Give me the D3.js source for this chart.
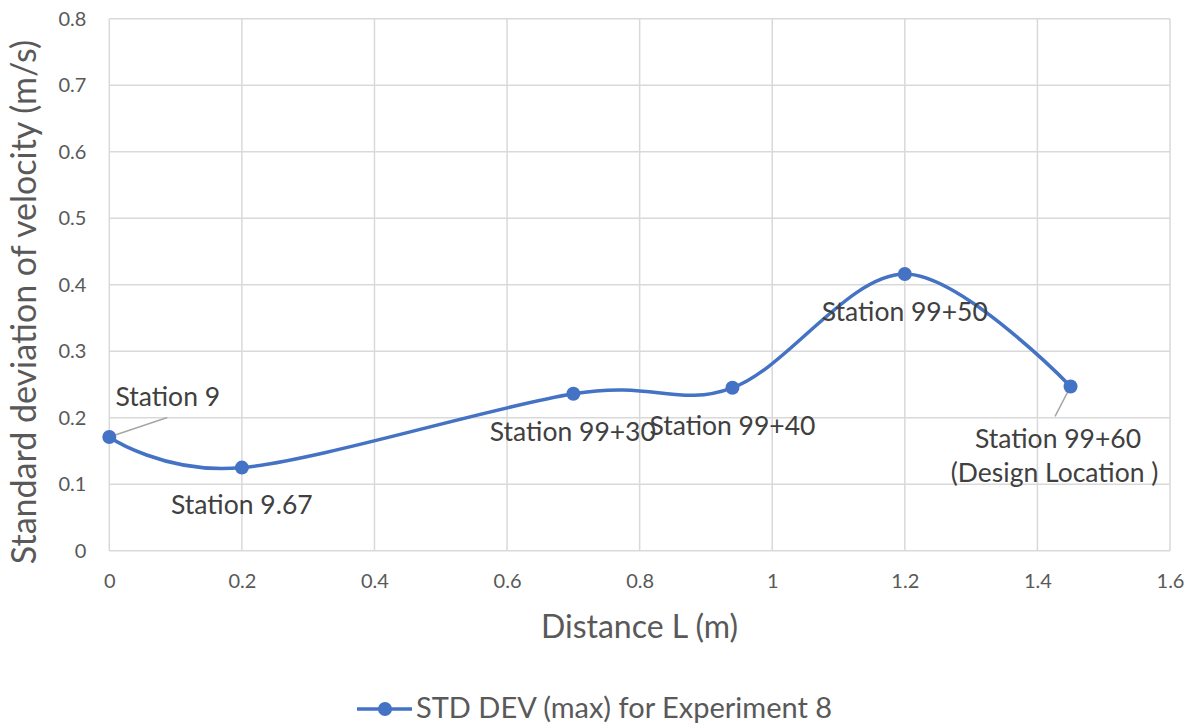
<!DOCTYPE html>
<html>
<head>
<meta charset="utf-8">
<script src="https://cdn.jsdelivr.net/npm/d3@7"></script>
<style>
  html, body { margin: 0; padding: 0; background: #fff; }
  svg { display: block; font-family: Lato, "Open Sans", sans-serif; }
</style>
</head>
<body>
<svg id="chart" width="1196" height="727"></svg>
<script>
// Distance along the channel (m) and the max standard deviation of velocity (m/s)
const distance = [0, 0.2, 0.7, 0.94, 1.2, 1.45];
const stdDev = [0.171, 0.125, 0.236, 0.245, 0.416, 0.247];
const stationLabels = [
  ["Station 9"],
  ["Station 9.67"],
  ["Station 99+30"],
  ["Station 99+40"],
  ["Station 99+50"],
  ["Station 99+60", "(Design Location )"]
];
const xTicks = [0, 0.2, 0.4, 0.6, 0.8, 1, 1.2, 1.4, 1.6];
const yTicks = [0, 0.1, 0.2, 0.3, 0.4, 0.5, 0.6, 0.7, 0.8];
const seriesName = "STD DEV (max) for Experiment 8";
const xTitle = "Distance L (m)";
const yTitle = "Standard deviation of velocity (m/s)";

const blue = "#4472C4";
const grid = "#d9d9d9";
const textCol = "#595959";
const labelCol = "#404040";

const svg = d3.select("#chart");
const plot = { left: 109.3, right: 1170, top: 18.7, bottom: 550.7 };

const x = d3.scaleLinear().domain([0, 1.6]).range([plot.left, plot.right]);
const y = d3.scaleLinear().domain([0, 0.8]).range([plot.bottom, plot.top]);

// Gridlines
const g = svg.append("g");
g.selectAll("line.v").data(xTicks).join("line")
  .attr("x1", d => x(d)).attr("x2", d => x(d))
  .attr("y1", plot.top).attr("y2", plot.bottom)
  .attr("stroke", grid).attr("stroke-width", 1.5);
g.selectAll("line.h").data(yTicks).join("line")
  .attr("x1", plot.left).attr("x2", plot.right)
  .attr("y1", d => y(d)).attr("y2", d => y(d))
  .attr("stroke", grid).attr("stroke-width", 1.5);

// Axes (labels only; domain and tick marks hidden)
const xAxis = svg.append("g")
  .attr("transform", `translate(0,${plot.bottom})`)
  .call(d3.axisBottom(x).tickValues(xTicks).tickSize(0).tickPadding(23).tickFormat(d => String(d)));
const yAxis = svg.append("g")
  .attr("transform", `translate(${plot.left},0)`)
  .call(d3.axisLeft(y).tickValues(yTicks).tickSize(0).tickPadding(23).tickFormat(d => String(d)));
[xAxis, yAxis].forEach(a => {
  a.select(".domain").remove();
  a.selectAll("text").attr("fill", textCol).style("font-size", "20px")
    .style("font-family", "Lato, 'Open Sans', sans-serif");
});

// Axis titles
svg.append("text")
  .attr("x", 639.5).attr("y", 638)
  .attr("text-anchor", "middle").attr("fill", textCol)
  .style("font-size", "32px").text(xTitle);
svg.append("text")
  .attr("transform", `translate(35.5,302) rotate(-90)`)
  .attr("text-anchor", "middle").attr("fill", textCol)
  .style("font-size", "34px").text(yTitle);

const pts = distance.map((d, i) => [d, stdDev[i]]);

// Leader lines for the end stations
const leaders = [
  { i: 0, dx: 58, dy: -19.5 },
  { i: 5, dx: -15.5, dy: 30 }
];
svg.selectAll("line.leader").data(leaders).join("line")
  .attr("x1", d => x(distance[d.i])).attr("y1", d => y(stdDev[d.i]))
  .attr("x2", d => x(distance[d.i]) + d.dx).attr("y2", d => y(stdDev[d.i]) + d.dy)
  .attr("stroke", "#a6a6a6").attr("stroke-width", 1.5);

// Smoothed series line
const line = d3.line()
  .x(d => x(d[0])).y(d => y(d[1]))
  .curve(d3.curveCardinal.tension(0));
svg.append("path").datum(pts)
  .attr("d", line).attr("fill", "none")
  .attr("stroke", blue).attr("stroke-width", 3.5)
  .attr("stroke-linecap", "round");

svg.selectAll("circle.pt").data(pts).join("circle")
  .attr("cx", d => x(d[0])).attr("cy", d => y(d[1]))
  .attr("r", 7).attr("fill", blue);

// Station labels: offsets (dx, dy of first baseline) from each marker
const labelOffsets = [
  { dx: 58.5, dy: -31 },
  { dx: 0, dy: 46 },
  { dx: -0.5, dy: 47 },
  { dx: 0, dy: 47 },
  { dx: 0, dy: 47 },
  { dx: -12.5, dy: 62 }
];
const lbl = svg.append("g");
stationLabels.forEach((lines, i) => {
  const o = labelOffsets[i];
  const t = lbl.append("text")
    .attr("x", x(distance[i]) + o.dx)
    .attr("y", y(stdDev[i]) + o.dy)
    .attr("text-anchor", "middle")
    .attr("fill", labelCol)
    .style("font-size", "26.5px");
  lines.forEach((s, k) => {
    t.append("tspan").attr("x", x(distance[i]) + o.dx - (k ? 3.5 : 0))
      .attr("dy", k === 0 ? 0 : 34).text(s);
  });
});

// Legend
const leg = svg.append("g").attr("transform", "translate(357,709)");
leg.append("line").attr("x1", 0).attr("x2", 55).attr("y1", 0).attr("y2", 0)
  .attr("stroke", blue).attr("stroke-width", 3.5);
leg.append("circle").attr("cx", 28).attr("cy", 0).attr("r", 7).attr("fill", blue);
leg.append("text").attr("x", 59).attr("y", 8.5).attr("fill", textCol)
  .style("font-size", "29px").text(seriesName);
</script>
</body>
</html>
